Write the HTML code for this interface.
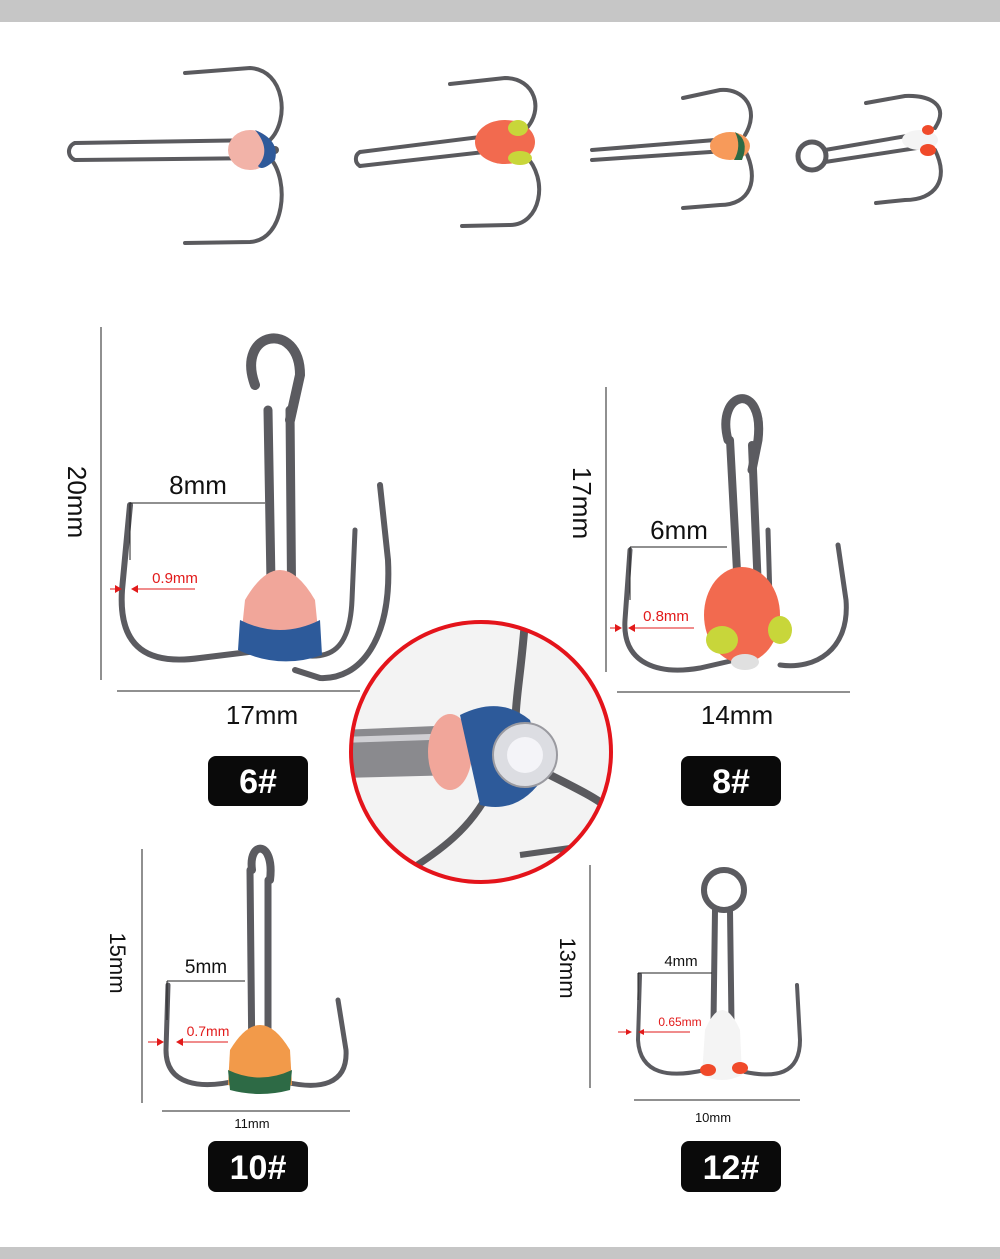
<!DOCTYPE html>
<html><head><meta charset="utf-8"><style>
html,body{margin:0;padding:0;background:#fff}
svg{display:block}
text{font-family:"Liberation Sans",Arial,sans-serif}
</style></head><body>
<svg width="1000" height="1259" viewBox="0 0 1000 1259" xmlns="http://www.w3.org/2000/svg">
<rect x="0" y="0" width="1000" height="1259" fill="#fff"/>
<rect x="0" y="0" width="1000" height="22" fill="#c6c6c6"/>
<rect x="0" y="1247" width="1000" height="12" fill="#c6c6c6"/>

<g fill="none" stroke="#5a5a5e" stroke-linecap="round">
<!-- top row hook 1 -->
<path d="M75 143 L265 140 M75 160 L265 158" stroke-width="4"/>
<path d="M75 143 A9 9 0 0 0 75 160" stroke-width="4"/>
<path d="M270 140 C290 120 285 70 250 68 L185 73" stroke-width="4"/>
<path d="M270 158 C290 180 285 240 250 242 L185 243" stroke-width="4"/>
<path d="M265 150 L275 150" stroke-width="8"/>
<!-- hook 2 -->
<path d="M360 152 L520 132 M360 166 L520 148" stroke-width="4"/>
<path d="M360 152 A8 8 0 0 0 360 166" stroke-width="4"/>
<path d="M525 130 C545 110 535 78 505 78 L450 84" stroke-width="4"/>
<path d="M525 155 C550 180 540 225 510 225 L462 226" stroke-width="4"/>
<!-- hook 3 -->
<path d="M592 150 L740 138 M592 160 L740 150" stroke-width="4"/>
<path d="M745 135 C760 110 745 88 720 90 L683 98" stroke-width="4"/>
<path d="M745 150 C760 180 750 205 720 205 L683 208" stroke-width="4"/>
<!-- hook 4 -->
<circle cx="812" cy="156" r="14" stroke-width="5"/>
<path d="M825 150 L930 132 M825 162 L930 146" stroke-width="4"/>
<path d="M935 128 C950 105 930 95 905 96 L866 103" stroke-width="4"/>
<path d="M935 150 C950 180 935 200 905 200 L876 203" stroke-width="4"/>
</g>
<!-- top row bodies -->
<ellipse cx="250" cy="150" rx="22" ry="20" fill="#f2b3a8"/>
<path d="M255 130 Q280 140 275 160 Q262 172 258 166 Q272 150 255 130Z" fill="#2f5a9a"/>
<ellipse cx="505" cy="142" rx="30" ry="22" fill="#f26a4f"/>
<ellipse cx="518" cy="128" rx="10" ry="8" fill="#c8d63a"/>
<ellipse cx="520" cy="158" rx="12" ry="7" fill="#c8d63a"/>
<ellipse cx="730" cy="146" rx="20" ry="14" fill="#f79a5a"/>
<path d="M735 132 Q750 140 742 160 L734 160 Q742 146 735 132Z" fill="#2d6a45"/>
<ellipse cx="920" cy="140" rx="18" ry="10" fill="#f4f4f4"/>
<ellipse cx="928" cy="150" rx="8" ry="6" fill="#f04a2a"/>
<ellipse cx="928" cy="130" rx="6" ry="5" fill="#f04a2a"/>

<!-- 6# hook -->
<g fill="none" stroke="#5b5b60" stroke-linecap="round">
<path d="M255 385 C235 330 300 320 300 375 L290 420" stroke-width="10"/>
<path d="M268 410 L272 640 M290 410 L292 640" stroke-width="9"/>
<path d="M130 505 L122 590 C118 650 150 665 200 658 L265 650" stroke-width="6"/>
<path d="M380 485 L388 560 C392 640 360 680 320 678 L295 670" stroke-width="6"/>
<path d="M355 530 L352 600 C350 650 330 660 300 655" stroke-width="5"/>
</g>
<path d="M245 600 Q280 540 315 600 L320 650 Q280 665 240 648Z" fill="#f1a69a"/>
<path d="M240 620 Q280 640 320 620 L322 655 Q280 670 238 650Z" fill="#2d5a9a"/>

<!-- 8# hook -->
<g fill="none" stroke="#5b5b60" stroke-linecap="round">
<path d="M728 440 C715 390 765 380 758 440 L752 470" stroke-width="9"/>
<path d="M730 440 L738 590 M752 445 L758 590" stroke-width="8"/>
<path d="M630 550 L625 620 C622 665 660 675 700 668 L735 660" stroke-width="5"/>
<path d="M838 545 L846 600 C850 650 815 670 780 665" stroke-width="5"/>
<path d="M768 530 L770 600 C770 640 760 655 745 655" stroke-width="5"/>
</g>
<ellipse cx="742" cy="615" rx="38" ry="48" fill="#f26a4f"/>
<ellipse cx="722" cy="640" rx="16" ry="14" fill="#c8d63a"/>
<ellipse cx="780" cy="630" rx="12" ry="14" fill="#c8d63a"/>
<ellipse cx="745" cy="662" rx="14" ry="8" fill="#e0e0e0"/>

<!-- 10# hook -->
<g fill="none" stroke="#5b5b60" stroke-linecap="round">
<path d="M252 870 C248 840 275 840 270 880" stroke-width="8"/>
<path d="M250 870 L252 1070 M268 880 L268 1070" stroke-width="7"/>
<path d="M168 985 L166 1050 C166 1085 200 1090 240 1080" stroke-width="5"/>
<path d="M338 1000 L346 1050 C348 1085 320 1090 285 1082" stroke-width="5"/>
</g>
<path d="M230 1050 Q260 1000 290 1050 L292 1085 Q260 1095 228 1085Z" fill="#f29a4a"/>
<path d="M228 1070 Q260 1085 292 1070 L290 1090 Q260 1098 230 1090Z" fill="#2d6a45"/>

<!-- 12# hook -->
<g fill="none" stroke="#5b5b60" stroke-linecap="round">
<circle cx="724" cy="890" r="20" stroke-width="6"/>
<path d="M715 910 L713 1060 M730 910 L732 1060" stroke-width="6"/>
<path d="M640 975 L638 1040 C640 1075 670 1078 705 1070" stroke-width="4"/>
<path d="M797 985 L800 1040 C800 1075 775 1078 745 1072" stroke-width="4"/>
</g>
<path d="M705 1030 Q722 990 740 1030 L742 1075 Q722 1085 702 1075Z" fill="#f4f4f4"/>
<ellipse cx="708" cy="1070" rx="8" ry="6" fill="#f04a2a"/>
<ellipse cx="740" cy="1068" rx="8" ry="6" fill="#f04a2a"/>

<!-- dimension lines -->
<g stroke="#222" stroke-width="1" fill="none">
<path d="M101 327 V680 M117 691 H360 M130 503 H265 M130 503 V560"/>
<path d="M606 387 V672 M617 692 H850 M630 547 H727 M630 547 V600"/>
<path d="M142 849 V1103 M162 1111 H350 M167 981 H245 M167 981 V1020"/>
<path d="M590 865 V1088 M634 1100 H800 M638 973 H712 M638 973 V1000"/>
</g>
<g stroke="#e21a1a" stroke-width="1">
<path d="M135 589 H195 M110 589 H118"/>
<path d="M632 628 H694 M610 628 H618"/>
<path d="M180 1042 H228 M148 1042 H160"/>
<path d="M642 1032 H690 M618 1032 H628"/>
</g>
<g fill="#e21a1a">
<path d="M131 589 l7 -4 v8z"/><path d="M122 589 l-7 -4 v8z"/>
<path d="M628 628 l7 -4 v8z"/><path d="M622 628 l-7 -4 v8z"/>
<path d="M176 1042 l7 -4 v8z"/><path d="M164 1042 l-7 -4 v8z"/>
<path d="M638 1032 l6 -3 v6z"/><path d="M632 1032 l-6 -3 v6z"/>
</g>

<!-- labels -->
<g fill="#111">
<text x="198" y="494" font-size="26" text-anchor="middle">8mm</text>
<text x="262" y="724" font-size="26" text-anchor="middle">17mm</text>
<text transform="translate(68,502) rotate(90)" font-size="26" text-anchor="middle">20mm</text>
<text x="679" y="539" font-size="26" text-anchor="middle">6mm</text>
<text x="737" y="724" font-size="26" text-anchor="middle">14mm</text>
<text transform="translate(573,503) rotate(90)" font-size="26" text-anchor="middle">17mm</text>
<text x="206" y="973" font-size="19" text-anchor="middle">5mm</text>
<text x="252" y="1128" font-size="13" text-anchor="middle">11mm</text>
<text transform="translate(110,963) rotate(90)" font-size="22" text-anchor="middle">15mm</text>
<text x="681" y="966" font-size="15" text-anchor="middle">4mm</text>
<text x="713" y="1122" font-size="13" text-anchor="middle">10mm</text>
<text transform="translate(560,968) rotate(90)" font-size="22" text-anchor="middle">13mm</text>
</g>
<g fill="#e21a1a">
<text x="175" y="583" font-size="15" text-anchor="middle">0.9mm</text>
<text x="666" y="621" font-size="15" text-anchor="middle">0.8mm</text>
<text x="208" y="1036" font-size="14" text-anchor="middle">0.7mm</text>
<text x="680" y="1026" font-size="12" text-anchor="middle">0.65mm</text>
</g>

<!-- badges -->
<g fill="#0a0a0a">
<rect x="208" y="756" width="100" height="50" rx="8"/>
<rect x="681" y="756" width="100" height="50" rx="8"/>
<rect x="208" y="1141" width="100" height="51" rx="8"/>
<rect x="681" y="1141" width="100" height="51" rx="8"/>
</g>
<g fill="#fff" font-weight="bold" font-size="34" text-anchor="middle">
<text x="258" y="793">6#</text>
<text x="731" y="793">8#</text>
<text x="258" y="1179">10#</text>
<text x="731" y="1179">12#</text>
</g>

<!-- zoom circle -->
<defs><clipPath id="cc"><circle cx="481" cy="752" r="130"/></clipPath></defs>
<circle cx="481" cy="752" r="130" fill="#f3f3f3"/>
<g clip-path="url(#cc)">
<path d="M340 730 L460 725 L460 775 L340 778Z" fill="#8a8a8e"/>
<path d="M340 740 L460 736" stroke="#d0d0d4" stroke-width="6"/>
<path d="M525 620 C520 690 510 720 520 740" stroke="#5a5a5e" stroke-width="8" fill="none"/>
<path d="M540 770 C580 790 600 800 610 810" stroke="#5a5a5e" stroke-width="8" fill="none"/>
<path d="M490 790 C470 830 440 850 410 870" stroke="#5a5a5e" stroke-width="7" fill="none"/>
<path d="M520 855 L570 848" stroke="#5a5a5e" stroke-width="6" fill="none"/>
<ellipse cx="450" cy="752" rx="22" ry="38" fill="#f1a69a"/>
<path d="M460 715 Q500 695 530 720 L545 775 Q520 815 480 805 Q470 760 460 715Z" fill="#2d5a9a"/>
<circle cx="525" cy="755" r="32" fill="#dcdde2" stroke="#9a9aa0" stroke-width="2"/>
<circle cx="525" cy="755" r="18" fill="#f4f4f8"/>
</g>
<circle cx="481" cy="752" r="130" fill="none" stroke="#e4141b" stroke-width="4"/>
</svg>
</body></html>
